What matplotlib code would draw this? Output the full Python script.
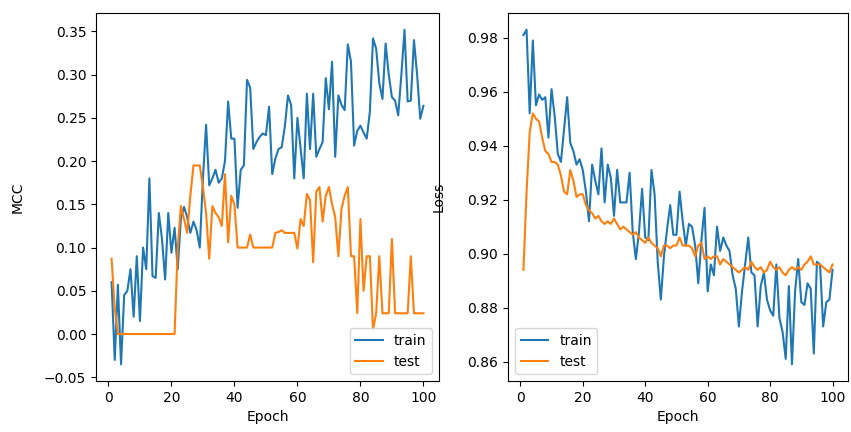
import numpy as np
import matplotlib
matplotlib.use("Agg")
import matplotlib.pyplot as plt

epochs = np.arange(1, 101)

mcc_train = [0.06, -0.03, 0.057, -0.035, 0.045, 0.05, 0.075, 0.02, 0.09, 0.015,
             0.10, 0.075, 0.18, 0.067, 0.065, 0.14, 0.11, 0.063, 0.14, 0.094,
             0.123, 0.075, 0.133, 0.147, 0.135, 0.117, 0.13, 0.12, 0.10, 0.18,
             0.242, 0.172, 0.18, 0.19, 0.175, 0.18, 0.20, 0.269, 0.226, 0.226,
             0.146, 0.19, 0.195, 0.294, 0.285, 0.214, 0.222, 0.228, 0.232, 0.23,
             0.263, 0.185, 0.203, 0.214, 0.216, 0.24, 0.276, 0.265, 0.18, 0.25,
             0.215, 0.18, 0.278, 0.214, 0.278, 0.205, 0.214, 0.222, 0.296, 0.26,
             0.315, 0.205, 0.276, 0.265, 0.259, 0.335, 0.315, 0.218, 0.235, 0.241,
             0.233, 0.226, 0.257, 0.342, 0.33, 0.29, 0.272, 0.336, 0.30, 0.274,
             0.27, 0.253, 0.30, 0.352, 0.269, 0.27, 0.34, 0.30, 0.249, 0.264]

mcc_test = [0.087, 0.03, 0.0, 0.0, 0.0, 0.0, 0.0, 0.0, 0.0, 0.0,
            0.0, 0.0, 0.0, 0.0, 0.0, 0.0, 0.0, 0.0, 0.0, 0.0,
            0.0, 0.10, 0.148, 0.133, 0.117, 0.16, 0.195, 0.195, 0.195, 0.17,
            0.14, 0.087, 0.148, 0.14, 0.135, 0.125, 0.185, 0.106, 0.16, 0.15,
            0.10, 0.10, 0.10, 0.10, 0.115, 0.10, 0.10, 0.10, 0.10, 0.10,
            0.10, 0.10, 0.117, 0.118, 0.12, 0.117, 0.117, 0.117, 0.117, 0.099,
            0.133, 0.125, 0.162, 0.155, 0.083, 0.165, 0.17, 0.13, 0.16, 0.17,
            0.15, 0.135, 0.09, 0.145, 0.16, 0.17, 0.09, 0.09, 0.024, 0.133,
            0.05, 0.09, 0.09, 0.005, 0.024, 0.09, 0.024, 0.024, 0.024, 0.11,
            0.024, 0.024, 0.024, 0.024, 0.024, 0.09, 0.024, 0.024, 0.024, 0.024]

loss_train = [0.981, 0.983, 0.952, 0.979, 0.955, 0.959, 0.957, 0.958, 0.943, 0.961,
              0.951, 0.937, 0.934, 0.946, 0.958, 0.941, 0.938, 0.933, 0.935, 0.931,
              0.923, 0.912, 0.933, 0.927, 0.922, 0.939, 0.919, 0.933, 0.928, 0.914,
              0.931, 0.919, 0.919, 0.919, 0.930, 0.908, 0.898, 0.908, 0.924, 0.906,
              0.905, 0.931, 0.922, 0.897, 0.883, 0.899, 0.909, 0.918, 0.907, 0.907,
              0.923, 0.912, 0.903, 0.911, 0.910, 0.903, 0.889, 0.905, 0.917, 0.886,
              0.896, 0.892, 0.910, 0.901, 0.906, 0.903, 0.901, 0.892, 0.887, 0.873,
              0.886, 0.896, 0.906, 0.893, 0.892, 0.873, 0.888, 0.893, 0.883, 0.879,
              0.877, 0.896, 0.876, 0.871, 0.861, 0.888, 0.859, 0.886, 0.898, 0.882,
              0.881, 0.889, 0.887, 0.863, 0.897, 0.896, 0.873, 0.882, 0.883, 0.894]

loss_test = [0.894, 0.923, 0.945, 0.952, 0.950, 0.949, 0.943, 0.938, 0.937, 0.934,
             0.934, 0.933, 0.929, 0.923, 0.922, 0.931, 0.927, 0.921, 0.922, 0.922,
             0.918, 0.916, 0.915, 0.913, 0.914, 0.912, 0.911, 0.912, 0.911, 0.913,
             0.911, 0.909, 0.910, 0.909, 0.908, 0.907, 0.908, 0.906, 0.905, 0.904,
             0.906, 0.904, 0.903, 0.902, 0.899, 0.903, 0.903, 0.902, 0.903, 0.903,
             0.906, 0.903, 0.903, 0.903, 0.902, 0.899, 0.903, 0.904, 0.898, 0.899,
             0.898, 0.899, 0.899, 0.896, 0.898, 0.897, 0.896, 0.895, 0.894, 0.893,
             0.894, 0.895, 0.894, 0.897, 0.895, 0.894, 0.895, 0.893, 0.894, 0.897,
             0.895, 0.894, 0.895, 0.893, 0.892, 0.894, 0.895, 0.894, 0.895, 0.894,
             0.896, 0.897, 0.899, 0.896, 0.896, 0.896, 0.895, 0.894, 0.893, 0.896]

fig, (ax1, ax2) = plt.subplots(1, 2, figsize=(8.51, 4.32), dpi=100)

ax1.plot(epochs, mcc_train, label='train')
ax1.plot(epochs, mcc_test, label='test')
ax1.set_xlabel('Epoch')
ax1.set_ylabel('MCC', labelpad=14)
ax1.legend(loc='lower right')

ax2.plot(epochs, loss_train, label='train')
ax2.plot(epochs, loss_test, label='test')
ax2.set_xlabel('Epoch')
ax2.set_ylabel('Loss', labelpad=16)
ax2.legend(loc='lower left')

# both panels placed in pixel units of the 851x432 canvas
ax1.set_position([96 / 851, 1 - 381 / 432, 343 / 851, 368 / 432])
ax2.set_position([508 / 851, 1 - 381 / 432, 340 / 851, 368 / 432])

fig.savefig('out.png')
